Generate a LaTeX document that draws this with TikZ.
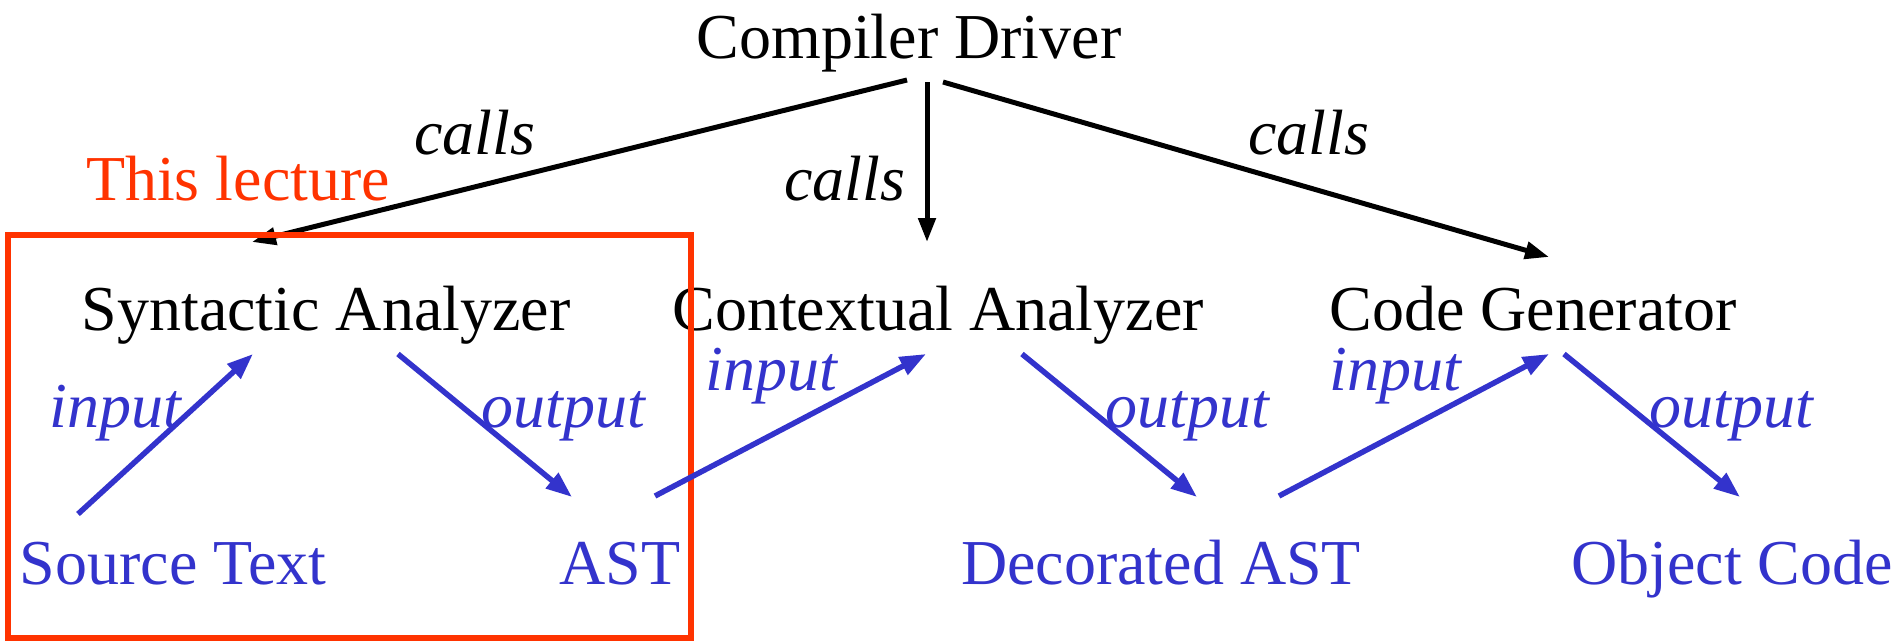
\documentclass[tikz,border=0pt]{standalone}
\usepackage{fontspec}
\setmainfont{Liberation Serif}
\usetikzlibrary{arrows.meta,calc}
\definecolor{flowblue}{HTML}{3333CC}
\definecolor{lecred}{HTML}{FF3300}
\begin{document}
\begin{tikzpicture}[x=1pt,y=-1pt,
  lbl/.style={inner sep=0pt, anchor=base, font=\fontsize{64}{72}\selectfont},
  comp/.style={lbl, text=black},
  data/.style={lbl, text=flowblue},
  tag/.style={lbl, font=\fontsize{64}{72}\selectfont\itshape},
  callarrow/.style={draw=black, line width=5pt, -{Triangle[length=24pt,width=17pt]}},
  flowarrow/.style={draw=flowblue, line width=5.5pt, -{Triangle[length=26pt,width=19pt]}}]
\useasboundingbox (0,0) rectangle (1901,643);

% components
\node[comp] (driver) at (909,58)  {Compiler Driver};
\node[comp] (syn)    at (326,330) {Syntactic Analyzer};
\node[comp] (ctx)    at (938,330) {Contextual Analyzer};
\node[comp] (gen)    at (1533,330) {Code Generator};

% data
\node[data] (src) at (173,584)  {Source Text};
\node[data] (ast) at (620,584)  {AST};
\node[data] (dec) at (1161,584) {Decorated AST};
\node[data] (obj) at (1732,584) {Object Code};

% call labels
\node[tag] (c1) at (475,154)  {calls};
\node[tag] (c2) at (845,200)  {calls};
\node[tag] (c3) at (1309,154) {calls};
\node[lbl, text=lecred] (lec) at (238,200) {This lecture};

% input / output labels
\node[tag, text=flowblue] (i1) at (115,427)  {input};
\node[tag, text=flowblue] (o1) at (563,427)  {output};
\node[tag, text=flowblue] (i2) at (771,390)  {input};
\node[tag, text=flowblue] (o2) at (1187,427) {output};
\node[tag, text=flowblue] (i3) at (1395,390) {input};
\node[tag, text=flowblue] (o3) at (1731,427) {output};

% driver calls
\draw[callarrow] ($(driver.base)+(-2,22)$) -- ($(syn.base)+(-74,-88)$);
\draw[callarrow] ($(driver.base)+(18,24)$) -- ($(ctx.base)+(-11,-88)$);
\draw[callarrow] ($(driver.base)+(34,24)$) -- ($(gen.base)+(16,-73)$);

% scope of this lecture
\draw[lecred, line width=6pt] (8,235) rectangle (691,638);

% data flow
\draw[flowarrow] ($(src.base)+(-95,-70)$) -- ($(syn.base)+(-73,24)$);
\draw[flowarrow] ($(syn.base)+(72,24)$)   -- ($(ast.base)+(-48,-87)$);
\draw[flowarrow] ($(ast.base)+(35,-88)$)  -- ($(ctx.base)+(-12,24)$);
\draw[flowarrow] ($(ctx.base)+(84,24)$)   -- ($(dec.base)+(36,-87)$);
\draw[flowarrow] ($(dec.base)+(118,-88)$) -- ($(gen.base)+(16,24)$);
\draw[flowarrow] ($(gen.base)+(31,24)$)   -- ($(obj.base)+(8,-87)$);
\end{tikzpicture}
\end{document}
